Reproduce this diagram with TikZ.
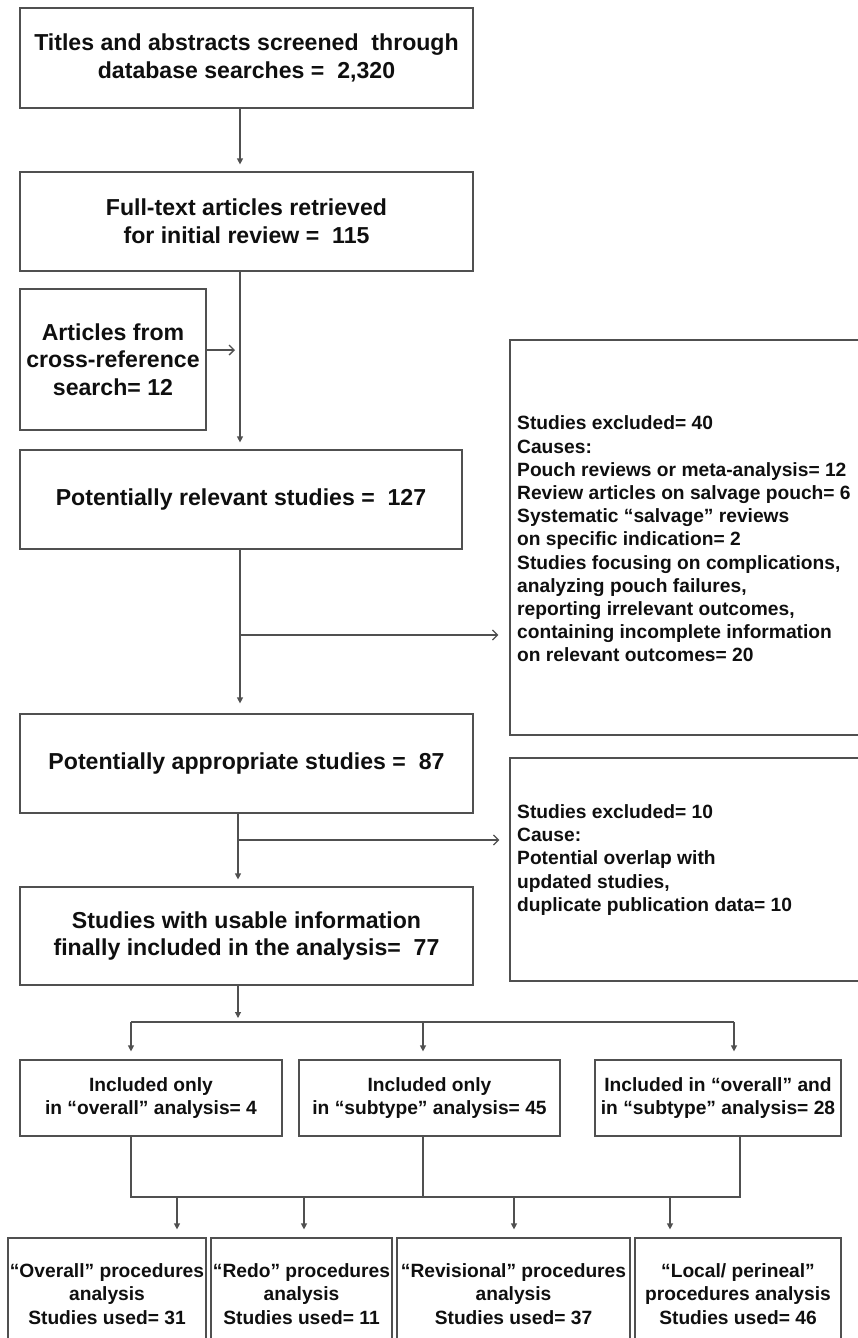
\documentclass[tikz,border=0pt]{standalone}
\usepackage{fontspec}
\setmainfont{Liberation Sans}
\usetikzlibrary{arrows.meta}
\definecolor{linec}{RGB}{80,80,80}
\definecolor{textc}{RGB}{15,15,15}
\newcommand{\bigtxt}{\fontsize{23.1}{27.6}\selectfont\bfseries}
\newcommand{\smalltxt}{\fontsize{19.2}{23.2}\selectfont\bfseries}
\begin{document}
\begin{tikzpicture}[x=1pt,y=-1pt,
  mainbox/.style={draw=linec, line width=1.2pt, rectangle, inner sep=0pt, align=center, font=\bigtxt, text=textc},
  subbox/.style={draw=linec, line width=1.2pt, rectangle, inner sep=0pt, align=center, font=\smalltxt, text=textc},
  extext/.style={inner sep=0pt, align=left, font=\smalltxt, text=textc, anchor=west},
  conn/.style={draw=linec, line width=1.2pt},
  arr/.style={conn, -{Triangle[length=6pt,width=6pt]}, shorten >=7pt},
  barb/.style={conn, -{Straight Barb[length=5pt,width=10pt,line width=1.3pt]}}
]
\useasboundingbox (0,0) rectangle (857,1338);

% main column
\node[mainbox, minimum width=453pt, minimum height=100pt] (b1) at (246.5,58)
  {Titles and abstracts screened~ through\\database searches = ~2,320};
\node[mainbox, minimum width=453pt, minimum height=99pt] (b2) at (246.5,221.5)
  {Full-text articles retrieved\\for initial review = ~115};
\node[mainbox, minimum width=186pt, minimum height=141pt] (cr) at (113,359.5)
  {Articles from\\cross-reference\\search= 12};
\node[mainbox, minimum width=442pt, minimum height=99pt] (b3) at (241,499.5)
  {Potentially relevant studies = ~127};
\node[mainbox, minimum width=453pt, minimum height=99pt] (b4) at (246.5,763.5)
  {Potentially appropriate studies = ~87};
\node[mainbox, minimum width=453pt, minimum height=98pt] (b5) at (246.5,936)
  {Studies with usable information\\finally included in the analysis= ~77};

% exclusion boxes
\node[subbox, minimum width=352pt, minimum height=395pt] (ex1) at (686,537.5) {};
\node[extext] (ex1t) at (517,539)
  {Studies excluded= 40\\Causes:\\Pouch reviews or meta-analysis= 12\\Review articles on salvage pouch= 6\\Systematic “salvage” reviews\\on specific indication= 2\\Studies focusing on complications,\\analyzing pouch failures,\\reporting irrelevant outcomes,\\containing incomplete information\\on relevant outcomes= 20};
\node[subbox, minimum width=352pt, minimum height=223pt] (ex2) at (686,869.5) {};
\node[extext] (ex2t) at (517,860)
  {Studies excluded= 10\\Cause:\\Potential overlap with\\updated studies,\\duplicate publication data= 10};

% second row
\node[subbox, minimum width=262pt, minimum height=76pt] (rA) at (151,1098)
  {Included only\\in “overall” analysis= 4};
\node[subbox, minimum width=261pt, minimum height=76pt] (rB) at (429.5,1098)
  {Included only\\in “subtype” analysis= 45};
\node[subbox, minimum width=246pt, minimum height=76pt] (rC) at (718,1098)
  {Included in “overall” and\\in “subtype” analysis= 28};

% third row
\node[subbox, minimum width=198pt, minimum height=112pt] (pA) at (107,1294)
  {“Overall” procedures\\analysis\\Studies used= 31};
\node[subbox, minimum width=181pt, minimum height=112pt] (pB) at (301.5,1294)
  {“Redo” procedures\\analysis\\Studies used= 11};
\node[subbox, minimum width=233pt, minimum height=112pt] (pC) at (513.5,1294)
  {“Revisional” procedures\\analysis\\Studies used= 37};
\node[subbox, minimum width=206pt, minimum height=112pt] (pD) at (738,1294)
  {“Local/ perineal”\\procedures analysis\\Studies used= 46};

% junction coordinates
\coordinate (j1) at (240,350);
\coordinate (j2) at (240,635);
\coordinate (j3) at (238,840);
\coordinate (j4) at (238,1022);
\coordinate (jL) at (131,1022);
\coordinate (jM) at (423,1022);
\coordinate (jR) at (734,1022);
\coordinate (kL) at (131,1197);
\coordinate (kM) at (423,1197);
\coordinate (kR) at (740,1197);
\coordinate (q1) at (177,1197);
\coordinate (q2) at (304,1197);
\coordinate (q3) at (514,1197);
\coordinate (q4) at (670,1197);

% connectors
\draw[arr] (b1.south -| j1) -- (b2.north -| j1);
\draw[arr] (b2.south -| j1) -- (b3.north -| j1);
\draw[barb, shorten >=5pt] (cr.east |- j1) -- (j1);
\draw[arr, shorten >=10pt] (b3.south -| j2) -- (b4.north -| j2);
\draw[barb, shorten >=11pt] (j2) -- (ex1.west |- j2);
\draw[arr] (b4.south -| j3) -- (b5.north -| j3);
\draw[barb, shorten >=10pt] (j3) -- (ex2.west |- j3);
\draw[arr, shorten >=4pt] (b5.south -| j4) -- (j4);
\draw[conn] (jL) -- (jR);
\draw[arr, shorten >=8pt] (jL) -- (rA.north -| jL);
\draw[arr, shorten >=8pt] (jM) -- (rB.north -| jM);
\draw[arr, shorten >=8pt] (jR) -- (rC.north -| jR);
\draw[conn] (rA.south -| kL) -- (kL) -- (kR) -- (rC.south -| kR);
\draw[conn] (rB.south -| kM) -- (kM);
\draw[arr, shorten >=8pt] (q1) -- (pA.north -| q1);
\draw[arr, shorten >=8pt] (q2) -- (pB.north -| q2);
\draw[arr, shorten >=8pt] (q3) -- (pC.north -| q3);
\draw[arr, shorten >=8pt] (q4) -- (pD.north -| q4);
\end{tikzpicture}
\end{document}
